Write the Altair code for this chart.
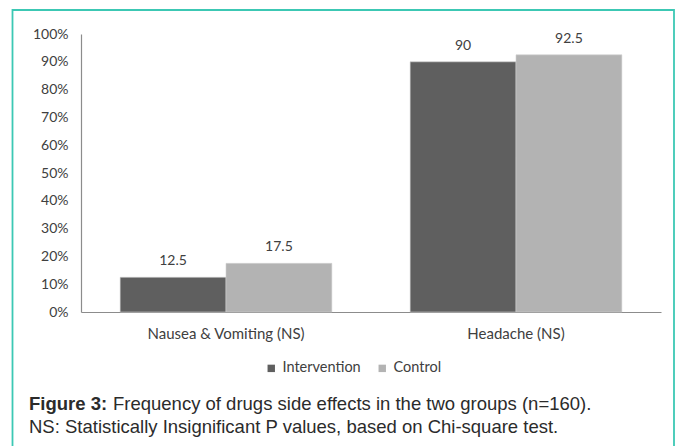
import altair as alt
import pandas as pd

categories = ["Nausea & Vomiting (NS)", "Headache (NS)"]
groups = ["Intervention", "Control"]
intervention = [12.5, 90]
control = [17.5, 92.5]
y_ticks = [0, 0.1, 0.2, 0.3, 0.4, 0.5, 0.6, 0.7, 0.8, 0.9, 1.0]

rows = []
for i, c in enumerate(categories):
    rows.append({"cat": c, "group": "Intervention", "value": intervention[i]})
    rows.append({"cat": c, "group": "Control", "value": control[i]})
df = pd.DataFrame(rows)
df["frac"] = df["value"] / 100.0
df["label"] = df["value"].map(lambda v: f"{v:g}")

FONT = "Lato"
TXT = "#404040"

x_enc = alt.X("cat:N", sort=categories, title=None,
              scale=alt.Scale(paddingInner=0.27, paddingOuter=0.135),
              axis=alt.Axis(labelAngle=0, ticks=False, labelPadding=14, labelFontSize=15,
                            labelFont=FONT, labelColor=TXT, domainColor="#8c8c8c", domainWidth=1.2))
xo_enc = alt.XOffset("group:N", sort=groups, scale=alt.Scale(paddingInner=0, paddingOuter=0))
y_enc = alt.Y("frac:Q", title=None,
              scale=alt.Scale(domain=[0, 1], nice=False),
              axis=alt.Axis(format=".0%", values=y_ticks, ticks=False, grid=False,
                            labelOverlap=False, labelPadding=13, labelFontSize=14, labelFont=FONT,
                            labelColor=TXT, domainColor="#8c8c8c", domainWidth=1.2))

bars = alt.Chart(df).mark_bar(stroke="#d0d0d0", strokeWidth=0.6).encode(
    x=x_enc, xOffset=xo_enc, y=y_enc,
    color=alt.Color("group:N", sort=groups, title=None,
                    scale=alt.Scale(domain=groups, range=["#5f5f5f", "#b3b3b3"]),
                    legend=alt.Legend(orient="none", legendX=183, legendY=327, direction="horizontal",
                                      symbolType="square", symbolSize=55, symbolStrokeWidth=0,
                                      labelFont=FONT, labelFontSize=14.5, labelColor=TXT,
                                      columnPadding=14, symbolOffset=0, labelOffset=4))
)

labels = alt.Chart(df).mark_text(dy=-16, fontSize=14, font=FONT, color=TXT).encode(
    x=x_enc, xOffset=xo_enc, y=y_enc, text="label:N"
)

cap1 = alt.Chart(pd.DataFrame({"t": ["Figure 3:"]})).mark_text(
    align="left", baseline="middle", font="Liberation Sans", fontSize=18.5, fontWeight="bold", color="#2b2b2b"
).encode(x=alt.value(-52), y=alt.value(370), text="t:N")
cap1b = alt.Chart(pd.DataFrame({"t": ["Frequency of drugs side effects in the two groups (n=160)."]})).mark_text(
    align="left", baseline="middle", font="Liberation Sans", fontSize=18.5, color="#2b2b2b"
).encode(x=alt.value(32), y=alt.value(370), text="t:N")
cap2 = alt.Chart(pd.DataFrame({"t": ["NS: Statistically Insignificant P values, based on Chi-square test."]})).mark_text(
    align="left", baseline="middle", font="Liberation Sans", fontSize=18.5, color="#2b2b2b"
).encode(x=alt.value(-52), y=alt.value(393), text="t:N")

border = alt.Chart(pd.DataFrame({"a": [0]})).mark_rect(
    filled=False, stroke="#3cc8b4", strokeWidth=1.8
).encode(x=alt.value(-68.5), x2=alt.value(593), y=alt.value(-24), y2=alt.value(480))

chart = alt.layer(border, bars, labels, cap1, cap1b, cap2).properties(
    width=580, height=278,
    autosize=alt.AutoSizeParams(type="none"),
    padding={"left": 81, "top": 34, "right": 16, "bottom": 134},
    background="white"
).configure_view(stroke=None)

chart.save("out.html", embed_options={"renderer": "svg", "actions": False})
